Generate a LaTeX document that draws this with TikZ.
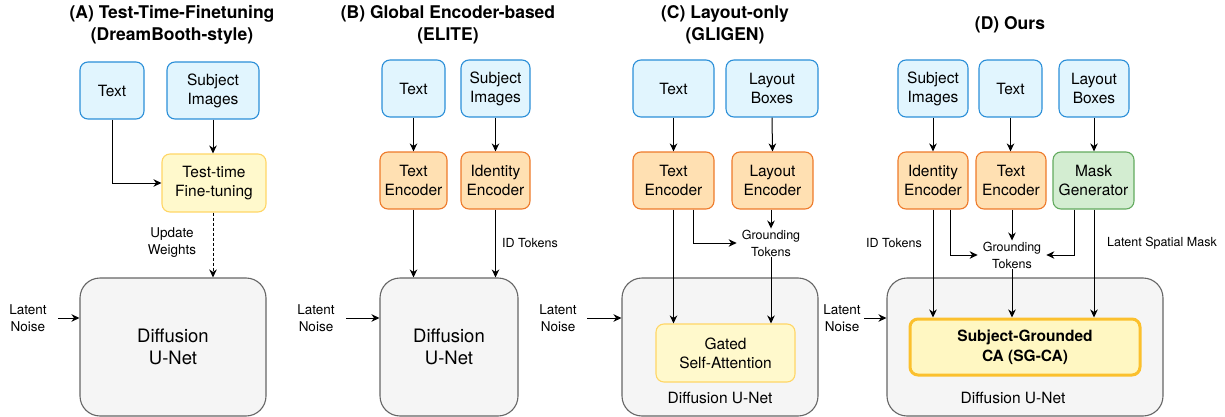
\documentclass[tikz,border=0pt]{standalone}
\usepackage{fontspec}
\setmainfont{TeX Gyre Heros}
\usetikzlibrary{arrows.meta,calc}
\definecolor{inFill}{HTML}{E1F5FE}
\definecolor{inLine}{HTML}{2B8FD8}
\definecolor{encFill}{HTML}{FFE0B2}
\definecolor{encLine}{HTML}{EE7A2A}
\definecolor{ftFill}{HTML}{FFF9CC}
\definecolor{ftLine}{HTML}{FFD666}
\definecolor{mgFill}{HTML}{D3EDD1}
\definecolor{mgLine}{HTML}{62AA5E}
\definecolor{dFill}{HTML}{F5F5F5}
\definecolor{dLine}{HTML}{666666}
\definecolor{sgFill}{HTML}{FFF7C2}
\definecolor{sgLine}{HTML}{FBC02D}
\begin{document}
\begin{tikzpicture}[x=1pt,y=-1pt,
  box/.style={draw, rounded corners=8pt, line width=1.1pt, align=center, inner sep=0pt,
    font=\fontsize{15.5}{19}\selectfont},
  inbox/.style={box, fill=inFill, draw=inLine},
  encbox/.style={box, fill=encFill, draw=encLine},
  ftbox/.style={box, fill=ftFill, draw=ftLine},
  mgbox/.style={box, fill=mgFill, draw=mgLine},
  unet/.style={draw=dLine, fill=dFill, rounded corners=20pt, line width=1.1pt, align=center, inner sep=0pt,
    font=\fontsize{18.5}{22}\selectfont},
  title/.style={align=center, font=\bfseries\fontsize{17.5}{22}\selectfont},
  small/.style={align=center, inner sep=1pt, font=\fontsize{13.5}{17}\selectfont},
  tiny/.style={align=center, inner sep=1pt, font=\fontsize{12.5}{16}\selectfont},
  gt/.style={align=center, inner xsep=5pt, inner ysep=1pt, font=\fontsize{12.5}{17}\selectfont},
  ulabel/.style={font=\fontsize{15.5}{19}\selectfont},
  arr/.style={-{Stealth[length=8pt,width=7.5pt,inset=2.5pt]}, line width=1pt, black}
]
\useasboundingbox (0,0) rectangle (1225,417);

% ---------------- Panel A ----------------
\node[title] (titA) at (172,25) {(A) Test-Time-Finetuning\\(DreamBooth-style)};
\node[inbox, minimum width=64pt, minimum height=57pt] (tA) at (112,90.5) {Text};
\node[inbox, minimum width=92pt, minimum height=57pt] (sA) at (213,90.5) {Subject\\Images};
\node[ftbox, minimum width=104pt, minimum height=58pt] (ftA) at (214,183) {Test-time\\Fine-tuning};
\node[unet, minimum width=186pt, minimum height=138pt] (dA) at (173,347) {Diffusion\\U-Net};
\node[small] (lnA) at (28,318) {Latent\\Noise};
\coordinate (nA) at (58,318);
\node[small] (uwA) at (172,243) {Update\\Weights};
\draw[arr] (tA.south) |- (ftA.west);
\draw[arr] (sA.south) -- (sA.south |- ftA.north);
\draw[arr, dashed, dash pattern=on 3pt off 2pt] ($(ftA.south)+(-1,0)$) -- ($(ftA.south |- dA.north)+(-1,0)$);
\draw[arr] (nA) -- (nA -| dA.west);

% ---------------- Panel B ----------------
\node[title] (titB) at (448,25) {(B) Global Encoder-based\\(ELITE)};
\node[inbox, minimum width=63pt, minimum height=57pt] (tB) at (413.5,88.5) {Text};
\node[inbox, minimum width=69pt, minimum height=57pt] (sB) at (495.5,88.5) {Subject\\Images};
\node[encbox, minimum width=67pt, minimum height=57pt] (teB) at (413.5,180.5) {Text\\Encoder};
\node[encbox, minimum width=69pt, minimum height=57pt] (ieB) at (495.5,180.5) {Identity\\Encoder};
\node[unet, minimum width=138pt, minimum height=138pt] (dB) at (449,347) {Diffusion\\U-Net};
\node[small] (lnB) at (316,318) {Latent\\Noise};
\coordinate (nB) at (346,318);
\node[tiny, anchor=west] (idB) at (501,243) {ID Tokens};
\draw[arr] (tB.south) -- (teB.north);
\draw[arr] (sB.south) -- (ieB.north);
\draw[arr] (teB.south) -- (teB.south |- dB.north);
\draw[arr] (ieB.south) -- (ieB.south |- dB.north);
\draw[arr] (nB) -- (nB -| dB.west);

% ---------------- Panel C ----------------
\node[title] (titC) at (725,25) {(C) Layout-only\\(GLIGEN)};
\node[inbox, minimum width=81pt, minimum height=57pt] (tC) at (673.5,88.5) {Text};
\node[inbox, minimum width=92pt, minimum height=57pt] (lbC) at (772,88.5) {Layout\\Boxes};
\node[encbox, minimum width=81pt, minimum height=57pt] (teC) at (673.5,180.5) {Text\\Encoder};
\node[encbox, minimum width=81pt, minimum height=57pt] (leC) at (772.5,180.5) {Layout\\Encoder};
\node[unet, minimum width=196pt, minimum height=138pt] (dC) at (720,347) {};
\node[ulabel] (dlC) at (720,398) {Diffusion U-Net};
\node[ftbox, minimum width=139pt, minimum height=58pt] (gsaC) at (725.5,353) {Gated\\Self-Attention};
\node[gt] (gtC) at (771,243) {Grounding\\Tokens};
\node[small] (lnC) at (558,318) {Latent\\Noise};
\coordinate (nC) at (587,318);
\draw[arr] (tC.south) -- (teC.north);
\draw[arr] (lbC.south) -- (leC.north);
\draw[arr] (leC.south -| gtC) -- (gtC.north);
\draw[arr] ($(teC.south)+(20,0)$) |- (gtC.west);
\draw[arr] (teC.south) -- (teC.south |- gsaC.north);
\draw[arr] (gtC.south) -- (gtC.south |- gsaC.north);
\draw[arr] (nC) -- (nC -| dC.west);

% ---------------- Panel D ----------------
\node[title] (titD) at (1010,25) {(D) Ours};
\node[inbox, minimum width=70pt, minimum height=57pt] (sD) at (933,88.5) {Subject\\Images};
\node[inbox, minimum width=63pt, minimum height=57pt] (tD) at (1010.5,88.5) {Text};
\node[inbox, minimum width=70pt, minimum height=57pt] (lbD) at (1094,88.5) {Layout\\Boxes};
\node[encbox, minimum width=70pt, minimum height=57pt] (ieD) at (933,180.5) {Identity\\Encoder};
\node[encbox, minimum width=70pt, minimum height=57pt] (teD) at (1011,180.5) {Text\\Encoder};
\node[mgbox, minimum width=81pt, minimum height=57pt] (mgD) at (1093.5,180.5) {Mask\\Generator};
\node[unet, minimum width=276pt, minimum height=138pt] (dD) at (1025,347) {};
\node[ulabel] (dlD) at (1013,398) {Diffusion U-Net};
\node[box, fill=sgFill, draw=sgLine, line width=3pt, minimum width=230pt, minimum height=56pt,
  font=\bfseries\fontsize{15.5}{20}\selectfont] (sgD) at (1025,347) {Subject-Grounded\\CA (SG-CA)};
\node[gt] (gtD) at (1012,255) {Grounding\\Tokens};
\node[tiny] (idD) at (894,243) {ID Tokens};
\node[tiny, anchor=west] (lsD) at (1106,243) {Latent Spatial Mask};
\node[small] (lnD) at (842,318) {Latent\\Noise};
\coordinate (nD) at (864,318);
\draw[arr] (sD.south) -- (ieD.north);
\draw[arr] (tD.south) -- (tD.south |- teD.north);
\draw[arr] (lbD.south) -- (lbD.south |- mgD.north);
\draw[arr] (teD.south -| gtD) -- (gtD.north);
\draw[arr] ($(ieD.south)+(17,0)$) |- (gtD.west);
\draw[arr] ($(mgD.south)+(-19.5,0)$) |- (gtD.east);
\draw[arr] (ieD.south) -- (ieD.south |- sgD.north);
\draw[arr] (gtD.south) -- (gtD.south |- sgD.north);
\draw[arr] (mgD.south -| lbD) -- (lbD.south |- sgD.north);
\draw[arr] (nD) -- (nD -| dD.west);
\end{tikzpicture}
\end{document}
